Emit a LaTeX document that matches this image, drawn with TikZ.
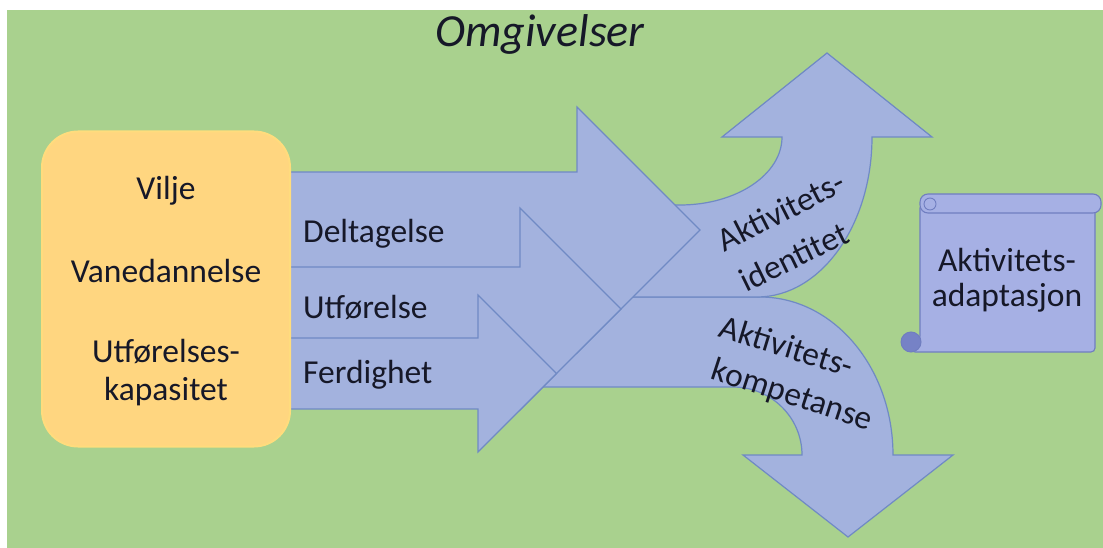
\documentclass[tikz,border=0pt]{standalone}
\usepackage{fontspec}
\setmainfont{Carlito}
\definecolor{bggreen}{RGB}{169,209,142}
\definecolor{boxorange}{RGB}{255,214,128}
\definecolor{boxglow}{RGB}{255,220,125}
\definecolor{arrowfill}{RGB}{163,178,222}
\definecolor{arrowline}{RGB}{112,138,196}
\definecolor{scrollfill}{RGB}{166,176,228}
\definecolor{scrollline}{RGB}{112,126,192}
\definecolor{curlfill}{RGB}{118,130,198}
\definecolor{txt}{RGB}{22,24,40}
\tikzset{
  blockarrow/.style={fill=arrowfill, draw=arrowline, line width=1.2pt, line join=miter},
  lbl/.style={font=\fontsize{33.5}{38}\selectfont, text=txt, inner sep=0pt},
  scrollpart/.style={fill=scrollfill, draw=scrollline, line width=1.1pt},
}
\begin{document}
\begin{tikzpicture}[x=1pt,y=-1pt]
\useasboundingbox (0,0) rectangle (1103,548);
\fill[white] (0,0) rectangle (1103,548);
\fill[bggreen] (7,10) rectangle (1103,548);

% title
\node[font=\fontsize{46}{50}\selectfont\itshape, text=txt, anchor=base, inner sep=0pt] (title) at (540,47) {Omgivelser};

% curved arrow down (kompetanse)
\path[blockarrow] (525,297) -- (760,297)
  .. controls (833.5,297) and (893,367.7) .. (893,455)
  -- (953,455) -- (848,537) -- (743,455) -- (802,455)
  .. controls (802,417.4) and (771.1,387) .. (733,387)
  -- (525,387) -- cycle;

% curved arrow up (identitet)
\path[blockarrow] (600,205) -- (680,205)
  .. controls (736.3,205) and (782,174.6) .. (782,137)
  -- (722,137) -- (827,53) -- (932,137) -- (872,137)
  .. controls (872,225.4) and (820.5,297) .. (757,297)
  -- (600,297) -- cycle;

% straight arrows
\path[blockarrow] (280,172) -- (577,172) -- (577,107) -- (700,230)
  -- (577,353) -- (577,288) -- (280,288) -- cycle;
\path[blockarrow] (280,267) -- (520,267) -- (520,208) -- (621,309)
  -- (520,410) -- (520,351) -- (280,351) -- cycle;
\path[blockarrow] (280,338) -- (478,338) -- (478,295) -- (556.5,373.5)
  -- (478,452) -- (478,409) -- (280,409) -- cycle;

% orange box
\node[fill=boxorange, draw=boxglow, line width=2pt, rounded corners=36pt,
      minimum width=248pt, minimum height=315pt, inner sep=0pt] (box) at (166,289) {};

\node[lbl, anchor=base] (vilje) at (166,200) {Vilje};
\node[lbl, anchor=base] (vane) at (166,282) {Vanedannelse};
\node[lbl, anchor=base] (utf1) at (166,362) {Utførelses-};
\node[lbl, anchor=base] (utf2) at (166,400) {kapasitet};

\node[lbl, anchor=base west] (delt) at (303,243) {Deltagelse};
\node[lbl, anchor=base west] (utfo) at (303,318) {Utførelse};
\node[lbl, anchor=base west] (ferd) at (303,383) {Ferdighet};

\node[lbl, rotate=27] (ident1) at (781,211) {Aktivitets-};
\node[lbl, rotate=26] (ident2) at (794,257) {identitet};
\node[lbl, rotate=-17] (komp1) at (787,346) {Aktivitets-};
\node[lbl, rotate=-18] (komp2) at (792,396) {kompetanse};

% scroll
\path[scrollpart, rounded corners=4pt] (920,204) -- (1095,204) -- (1095,352) -- (911,352) -- (920,340) -- cycle;
\path[scrollpart, rounded corners=8pt] (920,194) rectangle (1101,213);
\path[scrollpart, line width=0.9pt] (930,204) circle[radius=6];
\path[fill=curlfill, draw=scrollline, line width=1pt] (911,342) circle[radius=10];
\node[lbl, anchor=base] (adapt1) at (1007,272) {Aktivitets-};
\node[lbl, anchor=base] (adapt2) at (1007,306) {adaptasjon};
\end{tikzpicture}
\end{document}
